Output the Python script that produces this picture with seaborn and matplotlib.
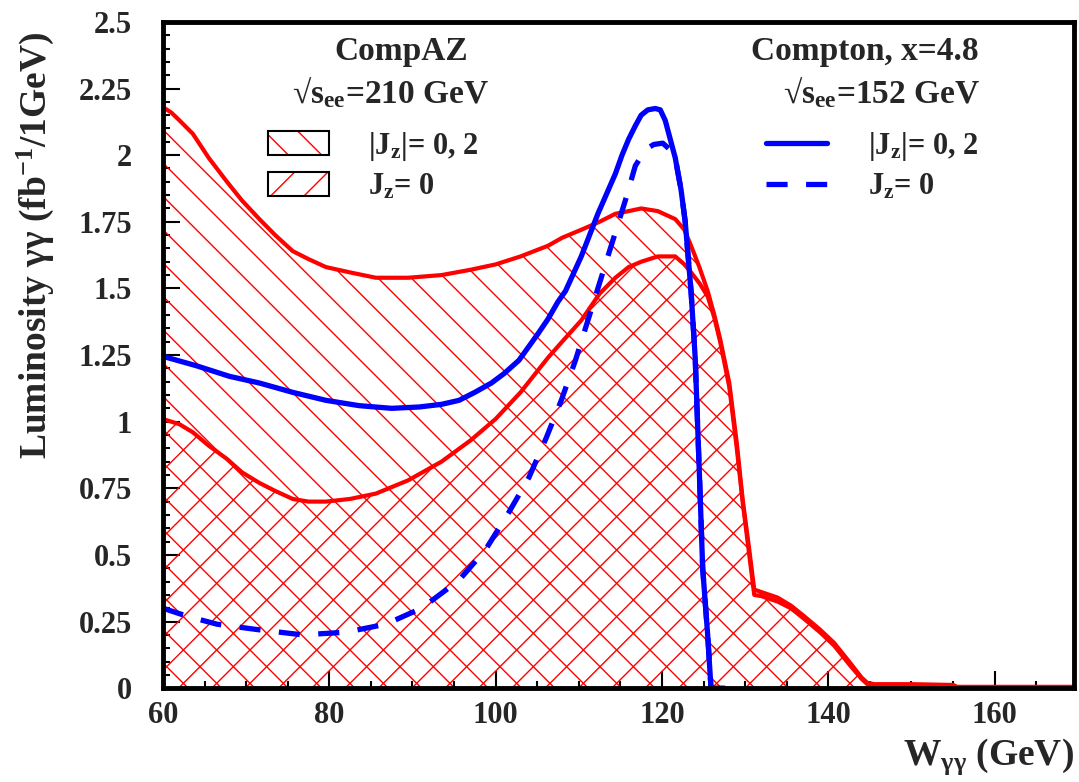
import numpy as np
import pandas as pd
import matplotlib
matplotlib.use('Agg')
import matplotlib.pyplot as plt
from matplotlib.patches import Patch
from matplotlib.lines import Line2D
from matplotlib.legend_handler import HandlerTuple
import seaborn as sns

# CompAZ, sqrt(s_ee)=210 GeV, |Jz|=0,2  (upper red band)
w_compaz = [60, 61, 62, 63.6, 65.5, 67.7, 69.5, 71.6, 73.5, 75.6, 77.5, 79.6, 82.5,
            85.6, 89.5, 93.5, 97, 100, 103, 106.3, 108, 110.3, 112.5, 114.4, 116,
            117.5, 119.5, 121.6, 122.7, 123.5, 124.5, 125.5, 126.3, 127, 128.1, 129,
            129.7, 130.5, 131.1, 132, 133.9, 135.5, 137.1, 139, 140.7, 142.5, 144,
            144.7, 145.5, 150, 155, 155.5, 170]
lum_compaz_all = [2.18, 2.16, 2.13, 2.08, 1.99, 1.90, 1.83, 1.76, 1.70, 1.64, 1.61, 1.58,
                  1.56, 1.54, 1.54, 1.55, 1.57, 1.59, 1.62, 1.66, 1.69, 1.72, 1.75, 1.78,
                  1.79, 1.80, 1.79, 1.76, 1.72, 1.66, 1.58, 1.49, 1.40, 1.31, 1.145, 0.92,
                  0.71, 0.52, 0.37, 0.36, 0.34, 0.31, 0.27, 0.22, 0.17, 0.10, 0.04, 0.02,
                  0.015, 0.015, 0.012, 0.005, 0.005]
# CompAZ, Jz=0 (lower red band)
lum_compaz_j0 = [1.01, 1.00, 0.99, 0.96, 0.91, 0.86, 0.81, 0.77, 0.74, 0.71, 0.70, 0.70,
                 0.71, 0.73, 0.78, 0.85, 0.93, 1.01, 1.11, 1.24, 1.30, 1.38, 1.48, 1.54,
                 1.58, 1.60, 1.62, 1.62, 1.59, 1.56, 1.52, 1.47, 1.39, 1.30, 1.13, 0.90,
                 0.70, 0.50, 0.35, 0.345, 0.325, 0.30, 0.26, 0.21, 0.16, 0.09, 0.035,
                 0.015, 0.01, 0.01, 0.008, 0.003, 0.003]

# Compton x=4.8, sqrt(s_ee)=152 GeV, |Jz|=0,2 (solid blue)
w_compton = [60, 64, 68, 71.6, 75.6, 79.6, 83.6, 87.5, 90.8, 93.5, 95.6, 97.5, 99.5, 101,
             102.8, 105.1, 106.3, 107.5, 108.4, 110.3, 112.3, 114.4, 115.2, 116, 116.8,
             117.5, 118.3, 119.2, 119.8, 120.4, 121, 121.6, 122.3, 122.8, 123.5, 124.0,
             124.3, 124.6, 124.9, 125.5, 125.9, 127.5]
lum_compton_all = [1.245, 1.21, 1.17, 1.145, 1.11, 1.08, 1.06, 1.05, 1.055, 1.065, 1.08,
                   1.11, 1.145, 1.18, 1.23, 1.33, 1.385, 1.45, 1.49, 1.62, 1.78, 1.93,
                   2.00, 2.06, 2.11, 2.15, 2.17, 2.175, 2.17, 2.13, 2.06, 1.99, 1.87,
                   1.75, 1.49, 1.24, 0.98, 0.72, 0.45, 0.20, 0.0, 0.0]
# Compton, Jz=0 (dashed blue)
w_compton_j0 = [60, 62.9, 66.5, 71.3, 76.8, 82, 86.8, 91.1, 95.6, 98.8, 101.6, 104, 106.1,
                107.9, 109.6, 111.1, 112.7, 114.4, 115.6, 116.8, 118, 119, 120.1, 121,
                121.6, 122.3, 122.8, 123.5, 124.0, 124.3, 124.6, 124.9, 125.5, 125.9]
lum_compton_j0 = [0.30, 0.27, 0.24, 0.22, 0.20, 0.21, 0.24, 0.30, 0.405, 0.52, 0.66, 0.79,
                  0.94, 1.08, 1.23, 1.38, 1.54, 1.71, 1.83, 1.96, 2.02, 2.04, 2.045, 2.02,
                  1.99, 1.87, 1.75, 1.49, 1.24, 0.98, 0.72, 0.45, 0.20, 0.0]

y_ticks = [0, 0.25, 0.5, 0.75, 1, 1.25, 1.5, 1.75, 2, 2.25, 2.5]
y_tick_labels = ['0', '0.25', '0.5', '0.75', '1', '1.25', '1.5', '1.75', '2', '2.25', '2.5']
x_ticks = [60, 80, 100, 120, 140, 160]

compaz = pd.DataFrame({'W': w_compaz, 'all': lum_compaz_all, 'j0': lum_compaz_j0})
compton = pd.DataFrame({'W': w_compton, 'lum': lum_compton_all})
compton_j0 = pd.DataFrame({'W': w_compton_j0, 'lum': lum_compton_j0})

sns.set_theme(style='ticks')
plt.rcParams['font.family'] = ['Liberation Serif', 'DejaVu Serif']
plt.rcParams['font.weight'] = 'bold'
plt.rcParams['mathtext.fontset'] = 'custom'
plt.rcParams['mathtext.rm'] = 'Liberation Serif:bold'
plt.rcParams['mathtext.it'] = 'Liberation Serif:italic:bold'
plt.rcParams['mathtext.bf'] = 'Liberation Serif:bold'
plt.rcParams['mathtext.default'] = 'rm'
plt.rcParams['hatch.linewidth'] = 1.0

fig = plt.figure(figsize=(10.79, 7.82), dpi=100)
ax = fig.add_axes([0.151, 0.120, 0.844, 0.852])

# hatched CompAZ bands
ax.fill_between(compaz['W'], 0, compaz['all'], facecolor='none', edgecolor='red',
                hatch='\\', linewidth=0)
ax.fill_between(compaz['W'], 0, compaz['j0'], facecolor='none', edgecolor='red',
                hatch='/', linewidth=0)
sns.lineplot(data=compaz, x='W', y='all', color='red', lw=3, sort=False, ax=ax)
sns.lineplot(data=compaz, x='W', y='j0', color='red', lw=3, sort=False, ax=ax)

# Compton curves
sns.lineplot(data=compton, x='W', y='lum', color='blue', lw=3.8, sort=False, ax=ax)
sns.lineplot(data=compton_j0, x='W', y='lum', color='blue', lw=3.8, sort=False, ax=ax)
ax.lines[-1].set_linestyle((0, (4, 3.5)))

ax.set_xlim(60, 169.5)
ax.set_ylim(0, 2.5)
ax.set_xticks(x_ticks)
ax.set_xticks(np.arange(60, 170, 5), minor=True)
ax.set_yticks(y_ticks)
ax.set_yticklabels(y_tick_labels)
ax.set_yticks(np.arange(0, 2.5, 0.05), minor=True)
ax.tick_params(which='both', direction='in', width=1.5, color='black', labelsize=22)
ax.tick_params(which='major', length=12)
ax.tick_params(which='minor', length=5)
ax.tick_params(axis='y', pad=22)
ax.tick_params(axis='x', pad=9)
for lab in ax.get_xticklabels() + ax.get_yticklabels():
    lab.set_fontweight('bold')
for sp in ax.spines.values():
    sp.set_linewidth(3.5)
    sp.set_color('black')

ax.set_xlabel(r'W$_{\gamma\gamma}$ (GeV)', fontsize=27, fontweight='bold', loc='right',
              labelpad=5)
ax.set_ylabel(r'Luminosity $\gamma\gamma$ (fb$^{-1}$/1GeV)', fontsize=27,
              fontweight='bold')
ax.yaxis.set_label_coords(-0.117, 0.665)

# headers
ax.text(0.262, 0.955, 'CompAZ', transform=ax.transAxes, ha='center', va='center',
        fontsize=24, fontweight='bold')
ax.text(0.250, 0.893, r'√s$_{ee}$=210 GeV', transform=ax.transAxes, ha='center',
        va='center', fontsize=24, fontweight='bold')
ax.text(0.771, 0.955, 'Compton, x=4.8', transform=ax.transAxes, ha='center', va='center',
        fontsize=24, fontweight='bold')
ax.text(0.789, 0.893, r'√s$_{ee}$=152 GeV', transform=ax.transAxes, ha='center',
        va='center', fontsize=24, fontweight='bold')

# legends
def hatch_box(h):
    return (Patch(facecolor='none', edgecolor='red', hatch=h, linewidth=0),
            Patch(facecolor='none', edgecolor='black', linewidth=1.5))

leg1 = ax.legend(handles=[hatch_box('\\'), hatch_box('/')],
                 labels=[r'|J$_z$|= 0, 2', r'J$_z$= 0'],
                 handler_map={tuple: HandlerTuple(ndivide=1, pad=0)},
                 loc='upper left', bbox_to_anchor=(0.115, 0.838),
                 frameon=False, fontsize=22, handlelength=2.0, handleheight=0.85,
                 handletextpad=1.3, labelspacing=0.3, borderpad=0, borderaxespad=0)
ax.add_artist(leg1)

blue_handles = [Line2D([], [], color='blue', lw=3.8, label=r'|J$_z$|= 0, 2'),
                Line2D([], [], color='blue', lw=3.8, ls=(0, (4, 3.5)), label=r'J$_z$= 0')]
ax.legend(handles=blue_handles, loc='upper left', bbox_to_anchor=(0.662, 0.838),
          frameon=False, fontsize=22, handlelength=2.0, handletextpad=1.35,
          labelspacing=0.3, borderpad=0, borderaxespad=0)

fig.savefig('out.png', dpi=100)
